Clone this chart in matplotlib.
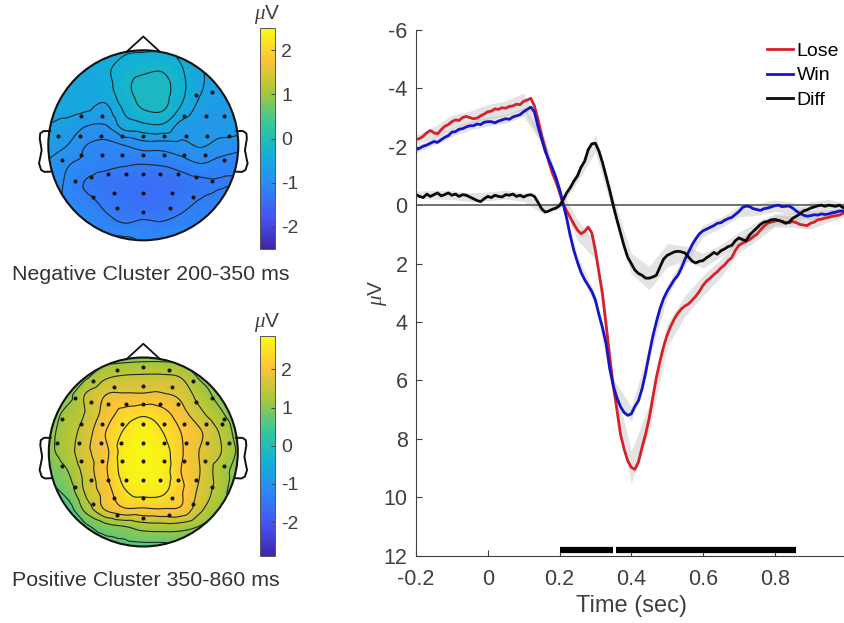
import numpy as np
from matplotlib import pyplot as plt
from matplotlib.colors import LinearSegmentedColormap
from matplotlib.patches import Circle
import matplotlib.tri as mtri

plt.rcParams["font.family"] = ["Liberation Sans", "DejaVu Sans"]
plt.rcParams["mathtext.fontset"] = "custom"
plt.rcParams["mathtext.it"] = "Liberation Serif:italic"
plt.rcParams["mathtext.rm"] = "Liberation Sans"
plt.rcParams["axes.unicode_minus"] = False

W, H = 844, 623
INK = "#404040"

# ERP waveforms, one value every 10 ms from -0.2 to 1.0 s
time = np.arange(121) / 100 - 0.2
lose = [-2.25, -2.28, -2.36, -2.48, -2.56, -2.48, -2.44, -2.58, -2.7, -2.76, -2.86,
        -2.92, -2.9, -3.0, -3.04, -3.0, -2.96, -2.98, -3.06, -3.12, -3.2,
        -3.22, -3.3, -3.28, -3.34, -3.32, -3.38, -3.4, -3.46, -3.44, -3.56,
        -3.6, -3.66, -3.4, -2.95, -2.4, -1.95, -1.5, -1.1, -0.8, -0.45,
        -0.05, 0.2, 0.42, 0.65, 0.85, 0.98, 0.9, 0.75, 0.95, 1.55,
        2.3, 3.05, 4.1, 5.2, 6.2, 7.0, 7.85, 8.35, 8.75, 8.98,
        9.05, 8.8, 8.3, 7.85, 7.3, 6.6, 5.9, 5.35, 4.85, 4.45,
        4.15, 3.9, 3.7, 3.55, 3.45, 3.38, 3.25, 3.12, 2.95, 2.75,
        2.6, 2.5, 2.38, 2.28, 2.15, 2.05, 1.9, 1.8, 1.55, 1.38,
        1.3, 1.25, 1.18, 1.08, 1.0, 0.85, 0.72, 0.62, 0.58, 0.55,
        0.52, 0.55, 0.6, 0.6, 0.56, 0.6, 0.66, 0.68, 0.7, 0.62,
        0.58, 0.5, 0.48, 0.44, 0.42, 0.38, 0.36, 0.34, 0.28, 0.26]
win = [-1.9, -1.95, -2.02, -2.06, -2.12, -2.18, -2.15, -2.24, -2.32, -2.38, -2.5,
       -2.52, -2.6, -2.62, -2.68, -2.72, -2.72, -2.78, -2.76, -2.84, -2.86,
       -2.86, -2.82, -2.88, -2.92, -2.96, -2.94, -3.02, -3.06, -3.1, -3.2,
       -3.28, -3.36, -3.2, -2.7, -2.28, -1.85, -1.55, -1.27, -0.95, -0.55,
       -0.05, 0.45, 1.05, 1.55, 1.95, 2.3, 2.55, 2.75, 2.95, 3.25,
       3.75, 4.2, 4.75, 5.6, 6.2, 6.6, 6.9, 7.1, 7.2, 7.15,
       6.9, 6.7, 6.3, 5.75, 5.1, 4.5, 4.0, 3.55, 3.2, 2.95,
       2.75, 2.55, 2.4, 2.15, 1.85, 1.6, 1.35, 1.15, 0.98, 0.88,
       0.82, 0.76, 0.7, 0.62, 0.6, 0.52, 0.46, 0.42, 0.32, 0.22,
       0.08, 0.03, 0.05, 0.12, 0.15, 0.18, 0.12, 0.1, 0.06, 0.02,
       0.0, 0.05, 0.04, 0.03, 0.1, 0.2, 0.28, 0.34, 0.38, 0.36,
       0.33, 0.34, 0.3, 0.32, 0.3, 0.26, 0.24, 0.2, 0.2, 0.18]
diff = [-0.36, -0.3, -0.26, -0.38, -0.3, -0.36, -0.42, -0.32, -0.36, -0.42, -0.34,
        -0.38, -0.3, -0.36, -0.34, -0.28, -0.22, -0.16, -0.12, -0.22, -0.3,
        -0.26, -0.34, -0.3, -0.28, -0.36, -0.34, -0.38, -0.3, -0.34, -0.28,
        -0.34, -0.36, -0.3, -0.1, 0.12, 0.24, 0.2, 0.14, 0.1, 0.02,
        -0.18, -0.42, -0.6, -0.82, -1.0, -1.3, -1.5, -1.9, -2.1, -2.12,
        -1.85, -1.45, -0.98, -0.5, 0.02, 0.5, 0.95, 1.4, 1.78, 2.0,
        2.22, 2.34, 2.4, 2.5, 2.5, 2.46, 2.4, 2.12, 1.85, 1.72,
        1.66, 1.6, 1.58, 1.6, 1.64, 1.78, 1.92, 1.98, 1.92, 1.9,
        1.8, 1.72, 1.62, 1.68, 1.56, 1.5, 1.42, 1.38, 1.22, 1.12,
        1.18, 1.22, 1.02, 0.9, 0.78, 0.66, 0.58, 0.56, 0.5, 0.49,
        0.52, 0.56, 0.62, 0.58, 0.45, 0.38, 0.3, 0.2, 0.16, 0.1,
        0.06, 0.02, 0.0, 0.04, 0.0, 0.02, 0.04, 0.0, 0.08, 0.1]

# error bands, one value every 50 ms
sem_lose = [0.15, 0.2, 0.22, 0.22, 0.25, 0.25, 0.28, 0.25, 0.2, 0.35, 0.3, 0.35, 0.55,
            0.45, 0.4, 0.35, 0.35, 0.3, 0.25, 0.2, 0.2, 0.2, 0.2, 0.15, 0.12]
sem_win = [0.12, 0.12, 0.15, 0.15, 0.15, 0.15, 0.15, 0.18, 0.15, 0.2, 0.2, 0.25, 0.25,
           0.2, 0.2, 0.2, 0.2, 0.18, 0.18, 0.2, 0.2, 0.2, 0.15, 0.15, 0.1]
sem_diff = [0.12, 0.15, 0.15, 0.15, 0.15, 0.15, 0.15, 0.15, 0.12, 0.2, 0.3, 0.3, 0.35,
            0.4, 0.4, 0.25, 0.25, 0.2, 0.2, 0.2, 0.2, 0.2, 0.22, 0.2, 0.15]

sig_spans = [(0.2, 0.35), (0.357, 0.86)]

# scalp maps: value estimates on an 11 x 11 grid over the head, top row first
neg_map = [
    [-.58, -.58, -.56, -.52, -.44, -.42, -.42, -.48, -.62, -.68, -.70],
    [-.56, -.54, -.53, -.44, -.30, -.24, -.22, -.38, -.58, -.66, -.68],
    [-.54, -.53, -.52, -.48, -.26, -.13, -.12, -.34, -.58, -.66, -.68],
    [-.52, -.52, -.56, -.64, -.36, -.18, -.16, -.42, -.66, -.72, -.70],
    [-.60, -.68, -.80, -.82, -.52, -.46, -.44, -.68, -.78, -.74, -.72],
    [-.64, -.80, -1.0, -1.06, -1.0, -.90, -.90, -.86, -.78, -.86, -.92],
    [-.84, -.98, -1.08, -1.14, -1.18, -1.2, -1.18, -1.10, -1.01, -1.08, -1.14],
    [-.84, -1.04, -1.22, -1.30, -1.34, -1.36, -1.36, -1.32, -1.26, -1.22, -1.2],
    [-.84, -1.04, -1.14, -1.24, -1.32, -1.38, -1.36, -1.26, -1.18, -1.10, -1.04],
    [-.88, -.94, -1.02, -1.14, -1.22, -1.18, -1.2, -1.14, -1.08, -1.02, -.96],
    [-.92, -.92, -.92, -.92, -.95, -1.01, -.98, -.92, -.92, -.92, -.92]]
pos_map = [
    [.85, .88, .90, .92, .95, .98, .98, .95, .92, .85, .80],
    [.85, .95, 1.05, 1.38, 1.48, 1.50, 1.50, 1.42, 1.05, .90, .85],
    [.90, 1.0, 1.50, 1.80, 1.85, 1.85, 1.85, 1.72, 1.30, 1.0, .85],
    [.95, 1.20, 1.50, 1.95, 2.30, 2.45, 2.30, 1.95, 1.55, 1.20, .85],
    [1.0, 1.28, 1.65, 2.15, 2.55, 2.75, 2.52, 2.15, 1.85, 1.45, .95],
    [1.0, 1.30, 1.72, 2.05, 2.68, 2.80, 2.68, 2.20, 1.78, 1.50, 1.05],
    [.80, 1.10, 1.62, 2.10, 2.65, 2.80, 2.70, 2.15, 1.80, 1.30, .95],
    [.65, .90, 1.55, 1.98, 2.48, 2.65, 2.60, 2.20, 1.72, 1.30, .85],
    [.55, .60, 1.25, 1.85, 2.12, 2.12, 2.15, 2.10, 1.55, 1.10, .80],
    [.50, .55, .68, .92, 1.05, 1.22, 1.25, 1.22, 1.05, .90, .70],
    [.50, .55, .58, .60, .60, .62, .62, .65, .65, .65, .60]]
neg_levels = [-1.2, -1.0, -0.8, -0.6, -0.4, -0.2]
pos_levels = [0.75, 1.1, 1.45, 1.8, 2.15, 2.5]

# electrode dots, read in head units
neg_dot_u = [0, -.277, .277, -.526, .526, -.305, 0, .302, -.72, .72, -.554, .554, -.368, -.182, 0, .179, .368,
             -.853, .853, -.656, -.432, -.221, 0, .218, .428, .651,
             -.902, -.67, -.445, -.228, 0, .221, .445, .67, .898,
             -.656, -.432, .428, .656, .853, .551, .72]
neg_dot_v = [-.705, -.663, -.663, -.54, -.54, -.498, -.498, -.498, -.375, -.375, -.33, -.33, -.305, -.305, -.305, -.305, -.305,
             -.154, -.154, -.102, -.102, -.102, -.102, -.102, -.102, -.102,
             .098, .098, .098, .098, .098, .098, .098, .098, .098,
             .312, .312, .312, .312, .312, .526, .565]
pos_dot_u = [0, -.277, .277, -.53, .53, 0, -.307, .304, -.728, .728, -.558, .555, -.371, -.184, 0, .18, .371,
             -.859, .859, -.661, -.435, -.223, 0, .219, .431, .661, .834,
             -.908, -.678, -.452, -.233, 0, .223, .449, .675, .905,
             -.661, -.435, -.223, 0, .219, .431, .654, -.859, .859,
             -.558, -.371, -.184, 0, .18, .371, .555, -.728, .728, -.307, 0, .304, -.53, .53, -.277, .277, 0]
pos_dot_v = [.901, .866, .866, .749, .749, .703, .689, .689, .576, .576, .530, .530, .505, .505, .505, .505, .505,
             .350, .350, .300, .300, .300, .300, .300, .300, .300, .300,
             .099, .099, .099, .099, .099, .099, .099, .099, .099,
             -.099, -.099, -.099, -.099, -.099, -.099, -.099, -.145, -.145,
             -.300, -.300, -.300, -.300, -.300, -.300, -.300, -.371, -.371, -.488, -.488, -.488, -.547, -.547, -.668, -.668, -.703]

nose_u = [-.175, 0, .175]
nose_v = [.985, 1.145, .985]
ear_u = [.98, 1.05, 1.085, 1.09, 1.07, 1.085, 1.098, 1.075, 1.04, .975]
ear_v = [.15, .15, .125, .07, -.05, -.13, -.19, -.26, -.28, -.277]

parula = LinearSegmentedColormap.from_list("parula", [
    (0.2422, 0.1504, 0.6603), (0.2810, 0.3228, 0.9579), (0.1786, 0.5289, 0.9682),
    (0.0689, 0.6948, 0.8394), (0.2161, 0.7843, 0.5923), (0.6720, 0.7793, 0.2227),
    (0.9970, 0.7659, 0.2199), (0.9769, 0.9839, 0.0805)])


def px_axes(fig, left, top, right, bottom):
    return fig.add_axes([left / W, 1 - bottom / H, (right - left) / W, (bottom - top) / H])


def draw_head(fig, cx, cy, r, grid, levels, lim, dot_u, dot_v):
    ax = px_axes(fig, cx - 1.2 * r, cy - 1.3 * r, cx + 1.2 * r, cy + 1.2 * r)
    ax.set_xlim(-1.2, 1.2)
    ax.set_ylim(-1.2, 1.3)
    ax.axis("off")
    axis_pts = np.linspace(-1, 1, 11)
    gx, gy = np.meshgrid(axis_pts, axis_pts[::-1])
    tri = mtri.Triangulation(gx.ravel(), gy.ravel())
    interp = mtri.CubicTriInterpolator(tri, np.array(grid).ravel(), kind="geom")
    fine = np.linspace(-1, 1, 401)
    fx, fy = np.meshgrid(fine, fine)
    fz = interp(fx, fy)
    clip = Circle((0, 0), 1, transform=ax.transData)
    im = ax.imshow(fz, extent=(-1, 1, -1, 1), origin="lower", cmap=parula, vmin=-lim, vmax=lim,
                   aspect="auto", interpolation="bilinear")
    im.set_clip_path(clip)
    cs = ax.contour(fx, fy, fz, levels=levels, colors="#1a2a2a", linewidths=0.8,
                    negative_linestyles="solid")
    cs.set_clip_path(clip)
    ax.add_patch(Circle((0, 0), 1, fill=False, ec="#111111", lw=1.5))
    ax.plot(nose_u, nose_v, c="#111111", lw=1.3)
    ax.plot(ear_u, ear_v, c="#111111", lw=1.4)
    ax.plot(-np.array(ear_u), ear_v, c="#111111", lw=1.4)
    ax.plot(dot_u, dot_v, ls="none", marker="o", ms=1.9, c="#111111")
    return im


def draw_bar(fig, im, top, bottom, ticks):
    cax = px_axes(fig, 260, top, 274.5, bottom)
    cb = fig.colorbar(im, cax=cax)
    cb.set_ticks(ticks)
    cb.set_ticklabels([str(t) for t in ticks])
    cb.ax.tick_params(direction="in", length=3, width=0.7, labelsize=14, labelcolor=INK, color=INK, pad=5)
    cb.outline.set_edgecolor("#555555")
    cb.outline.set_linewidth(0.7)
    fig.text(267 / W, 1 - (top - 2) / H, r"$\mu$V", fontsize=15, color=INK, ha="center", va="bottom")


fig = plt.figure(figsize=(W / 100, H / 100), dpi=100)

im1 = draw_head(fig, 143.3, 145.3, 95, neg_map, neg_levels, 2.5, neg_dot_u, neg_dot_v)
draw_bar(fig, im1, 28, 249, [-2, -1, 0, 1, 2])
im2 = draw_head(fig, 143.3, 452, 94.5, pos_map, pos_levels, 2.88, pos_dot_u, pos_dot_v)
draw_bar(fig, im2, 335.7, 555.7, [-2, -1, 0, 1, 2])
fig.text(151 / W, 1 - 274 / H, "Negative Cluster 200-350 ms", fontsize=15.4, color="#333333", ha="center", va="center")
fig.text(146 / W, 1 - 581 / H, "Positive Cluster 350-860 ms", fontsize=15.4, color="#333333", ha="center", va="center")

# waveform panel
ax = px_axes(fig, 416, 30, 846.5, 555.5)
band_t = time[::5]
for values, sem in ((lose, sem_lose), (win, sem_win), (diff, sem_diff)):
    centre = np.array(values)[::5]
    ax.fill_between(band_t, centre - sem, centre + sem, color="#b0b0b0", alpha=0.35, lw=0)
ax.axhline(0, c="#666666", lw=1.3)
ax.plot(time, lose, c="#d6202a", lw=2, label="Lose")
ax.plot(time, win, c="#1414c8", lw=2, label="Win")
ax.plot(time, diff, c="#0a0a0a", lw=2, label="Diff")
for start, stop in sig_spans:
    ax.plot([start, stop], [11.8, 11.8], c="black", lw=4.5, solid_capstyle="butt")

ax.set_xlim(-0.2, 1.0)
ax.set_ylim(12, -6)
ax.set_xticks([-0.2, 0, 0.2, 0.4, 0.6, 0.8])
ax.set_xticklabels(["-0.2", "0", "0.2", "0.4", "0.6", "0.8"])
ax.set_yticks(range(-6, 13, 2))
ax.spines["top"].set_visible(False)
ax.spines["right"].set_visible(False)
ax.spines["left"].set_color(INK)
ax.spines["bottom"].set_color(INK)
ax.tick_params(axis="both", direction="in", length=4, width=0.8, labelsize=15.5, labelcolor=INK, color=INK)
ax.tick_params(axis="x", pad=10)
ax.tick_params(axis="y", pad=6)
ax.set_xlabel("Time (sec)", fontsize=17, color=INK, labelpad=3)
ax.set_ylabel(r"$\mu$V", fontsize=15, color=INK, labelpad=-4)
ax.legend(loc="upper right", bbox_to_anchor=(0.983, 0.976), frameon=False, fontsize=14,
          handlelength=1.35, handletextpad=0.2, labelspacing=0.34, borderpad=0, borderaxespad=0)

fig.savefig("out.png", dpi=100)
